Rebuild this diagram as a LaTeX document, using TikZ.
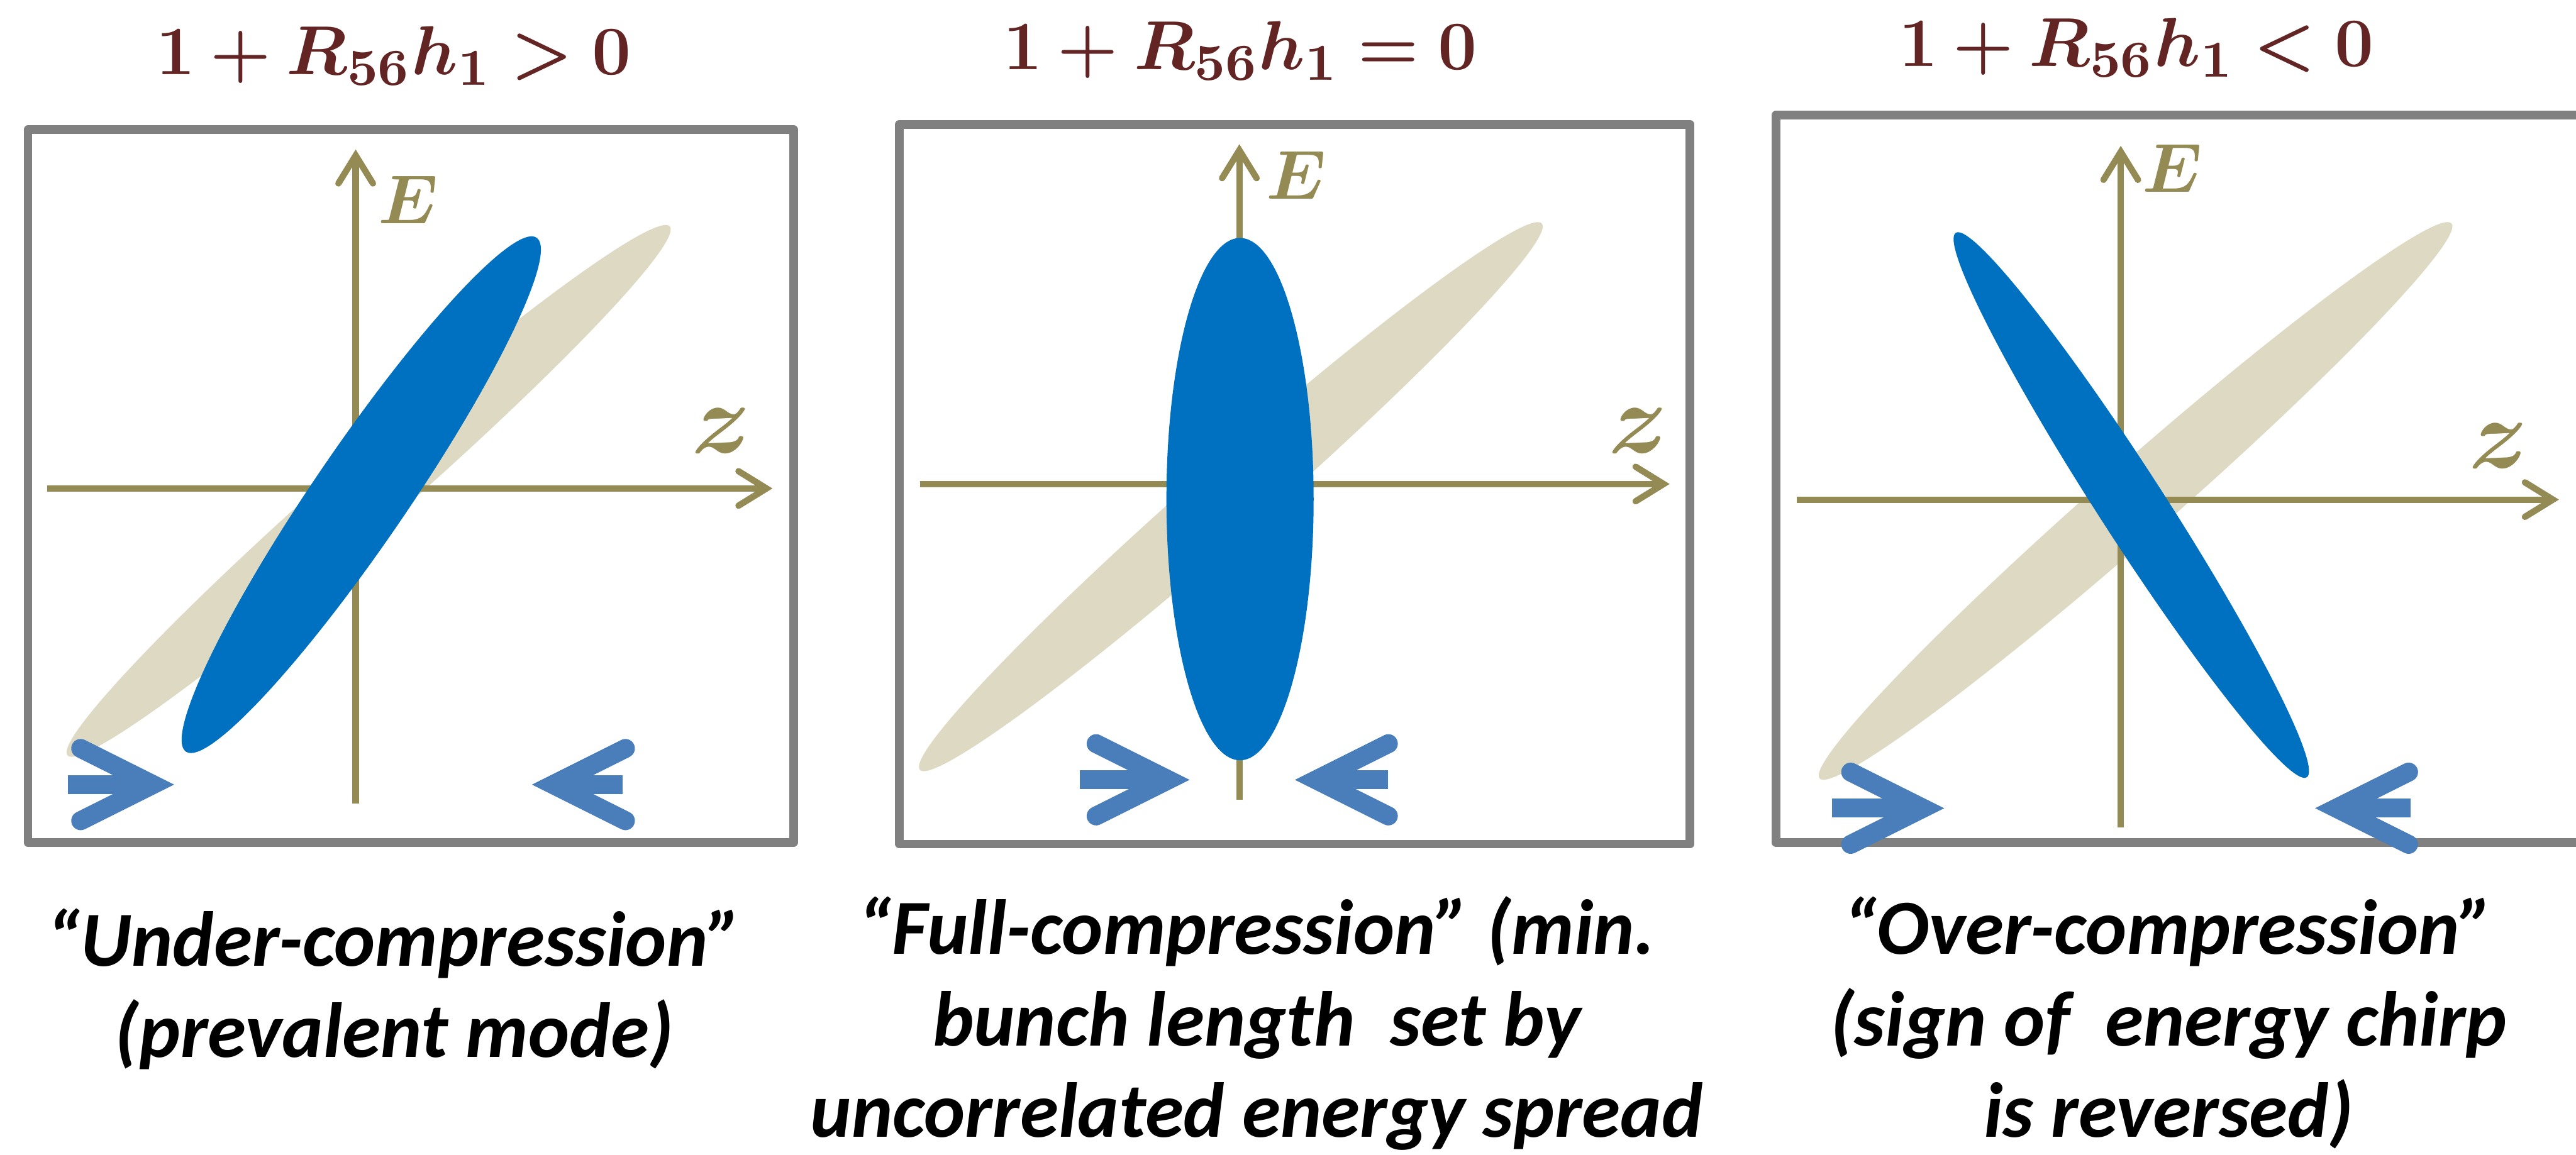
\documentclass[tikz,border=0pt]{standalone}
\usepackage{fontspec}
\setmainfont{Carlito}
\usepackage{bm}
\usetikzlibrary{arrows.meta}
\definecolor{wine}{HTML}{632523}
\definecolor{axisolive}{HTML}{948A54}
\definecolor{sand}{HTML}{DDD9C3}
\definecolor{beamblue}{HTML}{0070C0}
\definecolor{pushblue}{HTML}{4A7EBB}
\definecolor{framegray}{HTML}{808080}
\tikzset{
  panel/.style={draw=framegray,line width=1.5pt,line join=round},
  ax/.style={draw=axisolive,line width=1.1pt,
             -{Straight Barb[length=1.7mm,width=2.1mm,line cap=round]}},
  elbl/.style={text=axisolive,inner sep=0pt,
               font=\fontsize{12.5}{14}\selectfont},
  zlbl/.style={text=axisolive,inner sep=0pt,
               font=\fontsize{16}{18}\selectfont},
  chirp/.style={fill=sand},
  bunch/.style={fill=beamblue},
  push/.style={draw=pushblue,line width=1.15mm,
               -{Straight Barb[length=4.4mm,width=4.4mm,line cap=round]}},
  cond/.style={text=wine,inner sep=0pt,anchor=base,
               font=\fontsize{13}{15}\selectfont},
  caption/.style={align=center,anchor=base,inner sep=0pt,
                  font=\fontsize{13.5}{15.8}\selectfont\bfseries\itshape},
}

\begin{document}
\begin{tikzpicture}[x=0.01cm,y=0.01cm]
  \useasboundingbox (0,0) rectangle (1568,703);

  %% ── panel 1: under-compression ──────────────────────────────────────────
  \draw[panel] (17,624) rectangle (483,190);
  \fill[chirp,rotate around={41.3:(224.4,404.1)}]
    (224.4,404.1) ellipse [x radius=244,y radius=22];
  \draw[ax] (216.5,213.8) -- (216.5,612);
  \draw[ax] (28.9,405.6) -- (470.2,405.6);
  \fill[bunch,rotate around={55.7:(219.9,401.8)}]
    (219.9,401.8) ellipse [x radius=189.4,y radius=28.7];
  \node[elbl] (E1) at (248.5,581.2) {$\bm{E}$};
  \node[zlbl] (z1) at (439.2,440.6) {$\bm{z}$};
  \node[cond] (cond1) at (239.6,657.6) {$\bm{1+R_{56}h_1>0}$};
  \draw[push] (41.3,225.3) -- (106,225.3);
  \draw[push] (379,225.3) -- (323.8,225.3);
  % base anchor sits on the last line
  \node[caption] (cap1) at (240,59.4)
    {“Under-compression”\\(prevalent mode)};

  %% ── panel 2: full compression ───────────────────────────────────────────
  \draw[panel] (547.5,627.3) rectangle (1028.7,189.1);
  \fill[chirp,rotate around={41.3:(749.2,400.6)}]
    (749.2,400.6) ellipse [x radius=252,y radius=22];
  \draw[ax] (754.4,216.2) -- (754.4,615.2);
  \draw[ax] (560,408.3) -- (1016.3,408.3);
  \fill[bunch] (754.8,399.1) ellipse [x radius=44.8,y radius=159];
  \node[elbl] (E2) at (789.2,596.3) {$\bm{E}$};
  \node[zlbl] (z2) at (997,440.6) {$\bm{z}$};
  \node[cond] (cond2) at (754.9,660.6) {$\bm{1+R_{56}h_1=0}$};
  \draw[push] (657.3,228.2) -- (724.1,228.2);
  \draw[push] (845,228.2) -- (788.2,228.2);
  \node[caption] (cap2) at (765,10.8)
    {“Full-compression” (min.\\bunch length\ \ set by\\uncorrelated energy spread};

  %% ── panel 3: over-compression ───────────────────────────────────────────
  \draw[panel] (1568,633) -| (1081,190) -- (1568,190);
  \fill[chirp,rotate around={41.3:(1299.9,398)}]
    (1299.9,398) ellipse [x radius=256,y radius=22];
  \draw[ax] (1290.9,199.2) -- (1290.9,614.2);
  \draw[ax] (1093.6,398.8) -- (1557.6,398.8);
  \fill[bunch,rotate around={-57.2:(1297.3,395.5)}]
    (1297.3,395.5) ellipse [x radius=197.2,y radius=20.2];
  \node[elbl] (E3) at (1322.2,600.7) {$\bm{E}$};
  \node[zlbl] (z3) at (1520.8,431.4) {$\bm{z}$};
  \node[cond] (cond3) at (1300.4,662.6) {$\bm{1+R_{56}h_1<0}$};
  \draw[push] (1115,210.9) -- (1183.4,210.9);
  \draw[push] (1467.4,210.9) -- (1409.2,210.9);
  \node[caption] (cap3) at (1320,10.8)
    {“Over-compression”\\(sign of\ \ energy chirp\\is reversed)};

\end{tikzpicture}
\end{document}
